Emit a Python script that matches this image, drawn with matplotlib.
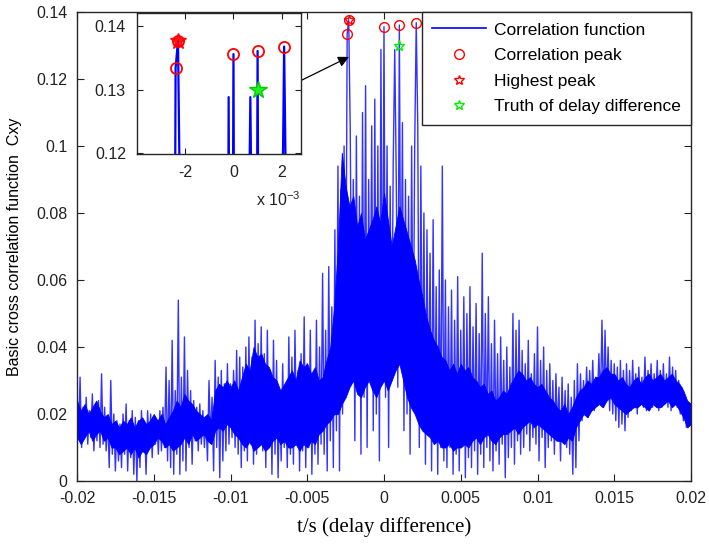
import numpy as np
import matplotlib
matplotlib.use("Agg")
import matplotlib.pyplot as plt
from matplotlib.lines import Line2D

# ---------------- data ----------------
t_start = -0.02
t_step = 0.0001  # successive samples alternate: peak, trough, peak, ...

peaks = [
    0.027, 0.031, 0.022, 0.025, 0.021, 0.026, 0.020, 0.024, 0.032, 0.022,
    0.019, 0.030, 0.020, 0.018, 0.017, 0.020, 0.023, 0.018, 0.021, 0.019,
    0.018, 0.021, 0.017, 0.021, 0.020, 0.019, 0.018, 0.021, 0.022, 0.034,
    0.030, 0.042, 0.027, 0.054, 0.031, 0.043, 0.033, 0.027, 0.024, 0.022,
    0.023, 0.021, 0.019, 0.030, 0.025, 0.036, 0.031, 0.033, 0.029, 0.035,
    0.029, 0.033, 0.039, 0.037, 0.034, 0.040, 0.043, 0.037, 0.048, 0.041,
    0.046, 0.038, 0.045, 0.033, 0.042, 0.036, 0.026, 0.035, 0.028, 0.043,
    0.037, 0.045, 0.033, 0.038, 0.049, 0.035, 0.045, 0.032, 0.048, 0.040,
    0.062, 0.045, 0.064, 0.052, 0.075, 0.094, 0.087, 0.100, 0.1334, 0.105,
    0.090, 0.103, 0.085, 0.110, 0.118, 0.090, 0.106, 0.114, 0.100, 0.1288,
    0.1356, 0.100, 0.088, 0.095, 0.090, 0.1361, 0.107, 0.090, 0.085, 0.100,
    0.100, 0.106, 0.094, 0.080, 0.075, 0.068, 0.078, 0.058, 0.063, 0.094,
    0.060, 0.052, 0.057, 0.048, 0.061, 0.045, 0.055, 0.050, 0.058, 0.046,
    0.053, 0.044, 0.068, 0.050, 0.055, 0.041, 0.048, 0.038, 0.043, 0.036,
    0.040, 0.034, 0.050, 0.045, 0.048, 0.039, 0.035, 0.042, 0.032, 0.038,
    0.046, 0.036, 0.040, 0.033, 0.035, 0.030, 0.032, 0.028, 0.031, 0.027,
    0.029, 0.025, 0.030, 0.035, 0.032, 0.030, 0.034, 0.033, 0.036, 0.031,
    0.038, 0.048, 0.045, 0.040, 0.036, 0.035, 0.034, 0.036, 0.033, 0.035,
    0.033, 0.036, 0.032, 0.034, 0.031, 0.037, 0.033, 0.035, 0.032, 0.036,
    0.033, 0.035, 0.032, 0.037, 0.034, 0.033, 0.030, 0.028, 0.024, 0.022,
    0.021,
]
troughs = [
    0.013, 0.010, 0.014, 0.011, 0.013, 0.009, 0.012, 0.010, 0.011, 0.009,
    0.004, 0.008, 0.003, 0.006, 0.004, 0.008, 0.003, 0.007, 0.002, 0.000,
    0.004, 0.009, 0.002, 0.010, 0.007, 0.011, 0.008, 0.009, 0.010, 0.006,
    0.004, 0.002, 0.008, 0.002, 0.006, 0.003, 0.010, 0.005, 0.012, 0.009,
    0.011, 0.010, 0.006, 0.012, 0.003, 0.010, 0.001, 0.006, 0.009, 0.011,
    0.013, 0.010, 0.008, 0.004, 0.009, 0.006, 0.011, 0.005, 0.008, 0.012,
    0.009, 0.004, 0.010, 0.002, 0.008, 0.001, 0.006, 0.010, 0.004, 0.008,
    0.005, 0.012, 0.003, 0.009, 0.004, 0.010, 0.002, 0.008, 0.005, 0.011,
    0.008, 0.003, 0.012, 0.004, 0.015, 0.003, 0.020, 0.030, 0.1377, 0.040,
    0.012, 0.030, 0.008, 0.025, 0.010, 0.035, 0.015, 0.020, 0.006, 0.030,
    0.025, 0.010, 0.030, 0.1288, 0.028, 0.040, 0.015, 0.020, 0.008, 0.030,
    0.1368, 0.010, 0.022, 0.005, 0.015, 0.003, 0.012, 0.002, 0.010, 0.006,
    0.004, 0.010, 0.002, 0.008, 0.003, 0.011, 0.001, 0.007, 0.004, 0.009,
    0.002, 0.008, 0.004, 0.010, 0.006, 0.003, 0.009, 0.005, 0.011, 0.001,
    0.007, 0.010, 0.005, 0.012, 0.008, 0.010, 0.014, 0.009, 0.013, 0.011,
    0.006, 0.013, 0.004, 0.010, 0.012, 0.008, 0.015, 0.006, 0.012, 0.010,
    0.008, 0.002, 0.004, 0.012, 0.018, 0.020, 0.019, 0.022, 0.021, 0.024,
    0.023, 0.022, 0.024, 0.021, 0.020, 0.018, 0.016, 0.017, 0.015, 0.019,
    0.021, 0.022, 0.020, 0.023, 0.022, 0.021, 0.024, 0.022, 0.023, 0.021,
    0.022, 0.023, 0.022, 0.021, 0.023, 0.022, 0.020, 0.018, 0.016, 0.017,
    0.019,
]

# dense (visually solid) band of the correlation function, every 0.25 ms
core_step = 0.00025
core_low = [
    0.013, 0.011, 0.013, 0.015, 0.012, 0.014, 0.015, 0.012, 0.013, 0.010,
    0.010, 0.008, 0.009, 0.010, 0.008, 0.010, 0.007, 0.009, 0.008, 0.010,
    0.011, 0.013, 0.012, 0.010, 0.011, 0.009, 0.010, 0.011, 0.013, 0.011,
    0.014, 0.012, 0.013, 0.014, 0.012, 0.011, 0.015, 0.016, 0.015, 0.017,
    0.016, 0.014, 0.013, 0.011, 0.010, 0.012, 0.009, 0.010, 0.011, 0.009,
    0.010, 0.012, 0.013, 0.011, 0.012, 0.010, 0.010, 0.011, 0.009, 0.011,
    0.010, 0.012, 0.011, 0.014, 0.015, 0.017, 0.018, 0.020, 0.020, 0.023,
    0.025, 0.028, 0.030, 0.026, 0.025, 0.028, 0.030, 0.027, 0.025, 0.028,
    0.030, 0.027, 0.030, 0.033, 0.035, 0.030, 0.025, 0.022, 0.020, 0.017,
    0.015, 0.014, 0.013, 0.011, 0.012, 0.010, 0.010, 0.011, 0.009, 0.010,
    0.010, 0.011, 0.010, 0.012, 0.013, 0.011, 0.013, 0.014, 0.012, 0.011,
    0.013, 0.014, 0.014, 0.015, 0.016, 0.014, 0.016, 0.017, 0.018, 0.016,
    0.017, 0.016, 0.015, 0.014, 0.013, 0.012, 0.012, 0.011, 0.013, 0.012,
    0.016, 0.018, 0.020, 0.019, 0.021, 0.022, 0.023, 0.022, 0.024, 0.025,
    0.023, 0.022, 0.021, 0.020, 0.021, 0.022, 0.022, 0.023, 0.022, 0.021,
    0.023, 0.022, 0.022, 0.023, 0.024, 0.022, 0.023, 0.021, 0.019, 0.016,
    0.017,
]
core_high = [
    0.024, 0.021, 0.023, 0.020, 0.022, 0.024, 0.021, 0.019, 0.020, 0.017,
    0.018, 0.016, 0.018, 0.017, 0.019, 0.016, 0.018, 0.019, 0.017, 0.018,
    0.020, 0.018, 0.020, 0.017, 0.019, 0.021, 0.024, 0.022, 0.026, 0.024,
    0.023, 0.021, 0.020, 0.019, 0.020, 0.018, 0.027, 0.029, 0.028, 0.030,
    0.028, 0.030, 0.027, 0.031, 0.035, 0.033, 0.040, 0.037, 0.038, 0.035,
    0.034, 0.031, 0.030, 0.027, 0.029, 0.031, 0.033, 0.030, 0.036, 0.034,
    0.035, 0.032, 0.034, 0.030, 0.031, 0.036, 0.040, 0.052, 0.070, 0.098,
    0.088, 0.082, 0.085, 0.076, 0.080, 0.072, 0.075, 0.078, 0.082, 0.077,
    0.086, 0.078, 0.070, 0.076, 0.082, 0.078, 0.074, 0.070, 0.066, 0.060,
    0.055, 0.049, 0.045, 0.042, 0.040, 0.037, 0.036, 0.033, 0.035, 0.032,
    0.035, 0.033, 0.034, 0.031, 0.030, 0.028, 0.029, 0.026, 0.027, 0.024,
    0.025, 0.027, 0.026, 0.029, 0.031, 0.033, 0.032, 0.030, 0.031, 0.029,
    0.028, 0.029, 0.027, 0.025, 0.024, 0.022, 0.021, 0.023, 0.020, 0.022,
    0.025, 0.027, 0.028, 0.030, 0.029, 0.031, 0.031, 0.033, 0.034, 0.032,
    0.032, 0.030, 0.031, 0.029, 0.028, 0.030, 0.031, 0.029, 0.031, 0.032,
    0.030, 0.031, 0.032, 0.030, 0.031, 0.032, 0.030, 0.029, 0.027, 0.024,
    0.023,
]

peak_times = [-0.0024, -0.0023, 0.0000, 0.0010, 0.0021]
highest_time = -0.0023
truth_time = 0.0010
truth_value = 0.1300

x_ticks = [-0.02, -0.015, -0.01, -0.005, 0.0, 0.005, 0.01, 0.015, 0.02]
x_tick_labels = ["-0.02", "-0.015", "-0.01", "-0.005", "0", "0.005", "0.01", "0.015", "0.02"]
y_ticks = [0, 0.02, 0.04, 0.06, 0.08, 0.1, 0.12, 0.14]
y_tick_labels = ["0", "0.02", "0.04", "0.06", "0.08", "0.1", "0.12", "0.14"]
inset_x_ticks = [-0.002, 0.0, 0.002]
inset_x_tick_labels = ["-2", "0", "2"]
inset_y_ticks = [0.12, 0.13, 0.14]
inset_y_tick_labels = ["0.12", "0.13", "0.14"]

legend_labels = ["Correlation function", "Correlation peak", "Highest peak",
                 "Truth of delay difference"]

# ---------------- build series ----------------
n = len(peaks)
y = np.empty(2 * n)
y[0::2] = peaks
y[1::2] = troughs
t = t_start + t_step * np.arange(2 * n)
t_core = t_start + core_step * np.arange(len(core_low))

def idx_of(tt):
    return int(np.rint((tt - t_start) / t_step))

pk_idx = [idx_of(p) for p in peak_times]
hi_idx = idx_of(highest_time)

# ---------------- style ----------------
plt.rcParams["font.family"] = ["Liberation Sans", "DejaVu Sans"]
plt.rcParams["mathtext.default"] = "regular"
plt.rcParams["font.size"] = 11

BLUE = "#0000ff"
EDGE = "#262626"

fig = plt.figure(figsize=(7.09, 5.48), dpi=100)
ax = fig.add_axes([77 / 709, 1 - 481 / 548, 614 / 709, 469 / 548])

ax.fill_between(t_core, core_low, core_high, color=BLUE, lw=0.6, edgecolor=BLUE, zorder=2)
ax.plot(t, y, color=BLUE, lw=1.0, alpha=0.8, zorder=2)
ax.plot(t[pk_idx], y[pk_idx], "o", ms=7, mfc="none", mec="red", mew=1.0, zorder=3)
ax.plot(t[hi_idx], y[hi_idx], "*", ms=7, mfc="none", mec="red", mew=1.0, zorder=3)
ax.plot([truth_time], [truth_value], "*", ms=8, mfc="none", mec="#00ee00", mew=1.0, zorder=3)

ax.set_xlim(-0.02, 0.02)
ax.set_ylim(0, 0.14)
ax.set_xticks(x_ticks)
ax.set_xticklabels(x_tick_labels)
ax.set_yticks(y_ticks)
ax.set_yticklabels(y_tick_labels)
ax.tick_params(direction="in", length=5, width=0.8, top=True, right=True,
               labelsize=11.5, colors="#222222", pad=7)
for s in ax.spines.values():
    s.set_color(EDGE)
    s.set_linewidth(1.0)

ax.set_xlabel("t/s (delay difference)", family=["Liberation Serif", "DejaVu Serif"],
              fontsize=15, labelpad=8)
ax.set_ylabel("Basic cross correlation function  Cxy", fontsize=11.5, labelpad=10)

handles = [
    Line2D([], [], color=BLUE, lw=1.2),
    Line2D([], [], ls="none", marker="o", ms=7, mfc="none", mec="red"),
    Line2D([], [], ls="none", marker="*", ms=7, mfc="none", mec="red"),
    Line2D([], [], ls="none", marker="*", ms=7, mfc="none", mec="#00ee00"),
]
leg = ax.legend(handles, legend_labels, loc="upper right", borderaxespad=0,
                fontsize=12.5, handlelength=3.1, handletextpad=0.45,
                labelspacing=0.6, borderpad=0.6, fancybox=False,
                framealpha=1, edgecolor=EDGE)
leg.get_frame().set_linewidth(1.0)
leg.set_zorder(10)

# arrow from inset to the highest peak
ax.annotate("", xy=(-0.00228, 0.1266), xytext=(-0.00534, 0.1197),
            arrowprops=dict(arrowstyle="-|>", color="black", lw=0.9,
                            mutation_scale=16, shrinkA=0, shrinkB=0))

# ---------------- inset ----------------
ins = fig.add_axes([137 / 709, 1 - 154 / 548, 164 / 709, 141 / 548])
ins.plot(t, y, color=BLUE, lw=1.6)
ins.plot(t[pk_idx], y[pk_idx], "o", ms=8, mfc="none", mec="red", mew=1.3)
ins.plot(t[hi_idx], y[hi_idx], "*", ms=12, mfc="red", mec="red", mew=1.0, alpha=0.9)
ins.plot([truth_time], [truth_value], "*", ms=13, mfc="#22ee22", mec="#00cc00", mew=1.0)
ins.set_xlim(-0.0040, 0.0028)
ins.set_ylim(0.1198, 0.1421)
ins.set_xticks(inset_x_ticks)
ins.set_xticklabels(inset_x_tick_labels)
ins.set_yticks(inset_y_ticks)
ins.set_yticklabels(inset_y_tick_labels)
ins.tick_params(direction="in", length=4, width=0.8, top=True, right=True,
                labelsize=11.5, colors="#222222", pad=8)
for s in ins.spines.values():
    s.set_color(EDGE)
    s.set_linewidth(1.0)
fig.text(278 / 709, 1 - 200 / 548, "x 10$^{-3}$", ha="center", va="center",
         fontsize=11.5, color="#222222")

fig.savefig("out.png", dpi=100)
